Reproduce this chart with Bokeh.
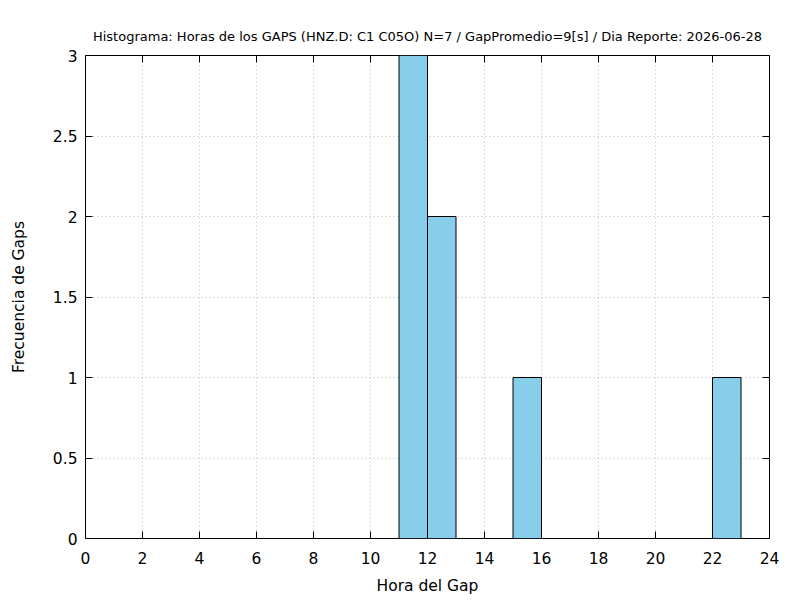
from bokeh.plotting import figure
from bokeh.models import LinearAxis, FixedTicker, CustomJSTickFormatter, Range1d, ColumnDataSource
from bokeh.embed import file_html
from bokeh.resources import INLINE

# Data
title_text = "Histograma: Horas de los GAPS (HNZ.D: C1 C05O) N=7 / GapPromedio=9[s] / Dia Reporte: 2026-06-28"
hours = [11, 12, 15, 22]
counts = [3, 2, 1, 1]
bin_width = 1
x_ticks = [0, 2, 4, 6, 8, 10, 12, 14, 16, 18, 20, 22, 24]
y_ticks = [0, 0.5, 1, 1.5, 2, 2.5, 3]
x_label = "Hora del Gap"
y_label = "Frecuencia de Gaps"

FONT = "DejaVu Sans"

src = ColumnDataSource(dict(
    left=hours,
    right=[h + bin_width for h in hours],
    top=counts,
    bottom=[0] * len(hours),
))

p = figure(frame_width=684, frame_height=483,
           min_border_left=85, min_border_right=31, min_border_top=55, min_border_bottom=62,
           x_range=Range1d(0, 24), y_range=Range1d(0, 3),
           output_backend="svg", toolbar_location=None,
           title=title_text)

p.background_fill_color = "white"
p.border_fill_color = "white"
p.outline_line_color = "black"
p.outline_line_width = 1

p.title.text_font = FONT
p.title.text_font_size = "13px"
p.title.text_font_style = "normal"
p.title.align = "center"
p.title.text_color = "black"
p.title.standoff = 24

p.quad(left="left", right="right", top="top", bottom="bottom", source=src,
       fill_color="#87CEEB", line_color="black", line_width=1)

fmt = CustomJSTickFormatter(code="return tick.toString();")

def style_axis(ax, ticks, show_labels):
    ax.ticker = FixedTicker(ticks=ticks)
    ax.axis_line_color = None
    ax.major_tick_in = 7
    ax.major_tick_out = 0
    ax.major_tick_line_color = "black"
    ax.major_tick_line_width = 1
    ax.minor_tick_line_color = None
    ax.formatter = fmt
    ax.major_label_text_font = FONT
    ax.major_label_text_font_size = "15.5px"
    ax.major_label_text_color = "black"
    if not show_labels:
        ax.major_label_text_font_size = "0px"
        ax.major_label_text_color = None

xa = p.xaxis[0]
ya = p.yaxis[0]
style_axis(xa, x_ticks, True)
style_axis(ya, y_ticks, True)
xa.major_label_standoff = 13
ya.major_label_standoff = 8
xa.axis_label = x_label
ya.axis_label = y_label
for ax in (xa, ya):
    ax.axis_label_text_font = FONT
    ax.axis_label_text_font_size = "15.5px"
    ax.axis_label_text_font_style = "normal"
    ax.axis_label_text_color = "black"
xa.axis_label_standoff = 10
ya.axis_label_standoff = 22

top_ax = LinearAxis()
style_axis(top_ax, x_ticks, False)
p.add_layout(top_ax, "above")
right_ax = LinearAxis()
style_axis(right_ax, y_ticks, False)
p.add_layout(right_ax, "right")

for g in (p.xgrid[0], p.ygrid[0]):
    g.grid_line_color = "#bcbcbc"
    g.grid_line_dash = "1 3"
    g.grid_line_width = 1
p.xgrid[0].ticker = FixedTicker(ticks=x_ticks)
p.ygrid[0].ticker = FixedTicker(ticks=y_ticks)

open("out.html", "w").write(file_html(p, INLINE))
